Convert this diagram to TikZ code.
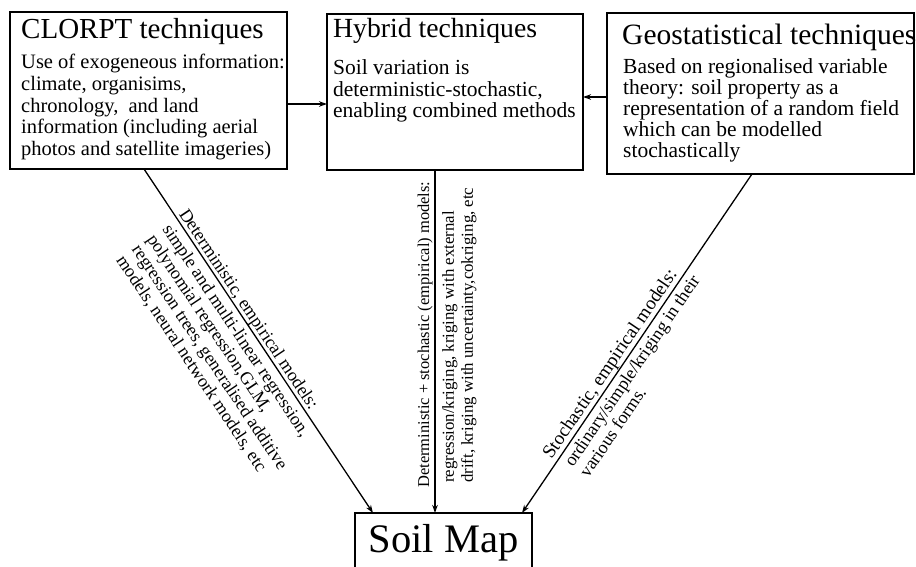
\documentclass[tikz,border=0pt]{standalone}
\usepackage{fontspec}
\setmainfont{Liberation Serif}
\usetikzlibrary{arrows.meta,calc}
\tikzset{
  boxst/.style={draw, line width=1.6pt, inner sep=0pt, outer sep=0pt, anchor=north west},
  headst/.style={anchor=base west, inner sep=0pt, font=\fontsize{28}{30}\selectfont},
  bodyst/.style={anchor=north west, inner sep=0pt, align=left, font=\fontsize{20.5}{21.7}\selectfont},
  lblst/.style={inner sep=0pt, align=left, font=\fontsize{18}{18.5}\selectfont},
  conn/.style={line width=1.3pt, -{Stealth[length=8pt,width=5.5pt]}},
}
\begin{document}
\begin{tikzpicture}[x=1pt,y=-1pt]
\useasboundingbox (0,0) rectangle (916,567);
\clip (0,0) rectangle (916,567);
\fill[white] (0,0) rectangle (916,567);

% boxes
\node[boxst, minimum width=277pt, minimum height=157pt] (clorpt) at (10,12) {};
\node[boxst, minimum width=256pt, minimum height=156pt] (hybrid) at (327,14) {};
\node[boxst, minimum width=307pt, minimum height=161pt] (geo) at (607,13) {};
\node[draw, line width=1.6pt, outer sep=0pt, anchor=north, minimum width=177pt,
      inner ysep=10pt, text height=29pt, text depth=20pt,
      font=\fontsize{40.5}{42}\selectfont] (soil) at (443.5,513) {Soil Map};

% box texts
\node[headst, font=\fontsize{29}{30}\selectfont] (clorpth) at (21,39) {CLORPT techniques};
\node[bodyst] (clorptb) at (21,54) {Use of exogeneous information:\\climate, organisims,\\chronology,\ \ and land\\information (including aerial\\photos and satellite imageries)};
\node[headst, font=\fontsize{27.7}{30}\selectfont] (hybridh) at (333,38) {Hybrid techniques};
\node[bodyst, font=\fontsize{21.5}{21.5}\selectfont] (hybridb) at (333,59.5) {Soil variation is\\deterministic-stochastic,\\enabling combined methods};
\node[headst, font=\fontsize{29.5}{30}\selectfont] (geoh) at (622,45) {Geostatistical techniques};
\node[bodyst, font=\fontsize{21.5}{21}\selectfont] (geob) at (623,58.5) {Based on regionalised variable\\theory: soil property as a\\representation of a random field\\which can be modelled\\stochastically};

% connector anchors
\coordinate (ya) at (0,104);
\coordinate (yb) at (0,97);
\coordinate (xa) at (144,0);
\coordinate (xb) at (373,0);
\coordinate (xc) at (435,0);
\coordinate (xd) at (752,0);
\coordinate (xe) at (522,0);

\draw[conn] (clorpt.east |- ya) -- (hybrid.west |- ya);
\draw[conn] (geo.west |- yb) -- (hybrid.east |- yb);
\draw[conn] (clorpt.south -| xa) -- (soil.north -| xb);
\draw[conn] (hybrid.south -| xc) -- (soil.north -| xc);
\draw[conn] (geo.south -| xd) -- (soil.north -| xe);

% left labels
\node[lblst, anchor=base west, rotate=-56.27] (l1) at (178.5,214) {Deterministic, empirical models:};
\node[lblst, anchor=north west, rotate=-56.27] (l2) at (172.5,222) {simple and multi-linear regression,\\polynomial regression,GLM,\\regression trees, generalised additive\\models, neural network models, etc};

% middle labels
\node[lblst, anchor=base west, rotate=90, font=\fontsize{16.5}{18.5}\selectfont] (m1) at (429,488) {Deterministic + stochastic (empirical) models:};
\node[lblst, anchor=north west, rotate=90, font=\fontsize{16.8}{19}\selectfont] (m2) at (442,483) {regression/kriging, kriging with external\\drift, kriging with uncertainty,cokriging, etc};

% right labels
\node[lblst, anchor=base west, rotate=55.85, font=\fontsize{19}{19}\selectfont] (r1) at (551.5,460) {Stochastic, empirical models:};
\node[lblst, anchor=north west, rotate=55.85] (r2) at (562.5,461) {ordinary/simple/kriging in their\\various forms.};
\end{tikzpicture}
\end{document}
